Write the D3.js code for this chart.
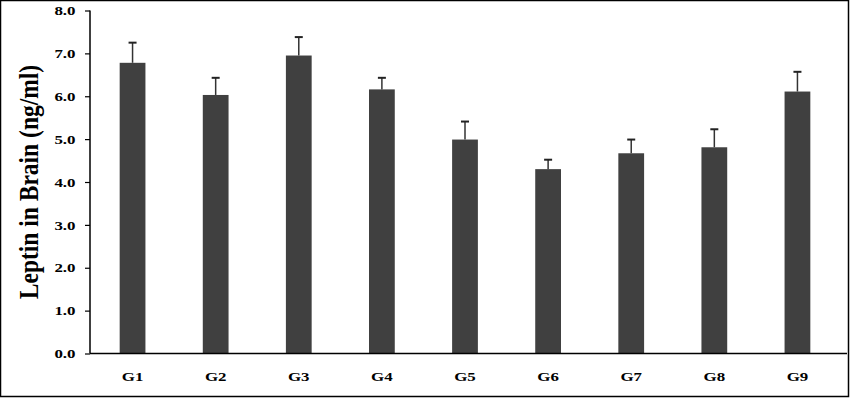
<!DOCTYPE html>
<html>
<head>
<meta charset="utf-8">
<script src="https://cdn.jsdelivr.net/npm/d3@7"></script>
<style>
  body { margin: 0; background: #fff; }
  text { font-family: "Liberation Serif", "Times New Roman", serif; font-weight: bold; fill: #000; }
</style>
</head>
<body>
<div id="chart"></div>
<script>
// data
var groups = ["G1", "G2", "G3", "G4", "G5", "G6", "G7", "G8", "G9"];
var means  = [6.78, 6.03, 6.95, 6.16, 4.99, 4.30, 4.67, 4.81, 6.11];
var errors = [0.47, 0.40, 0.43, 0.27, 0.42, 0.22, 0.32, 0.42, 0.46];
var yTicks = [0, 1, 2, 3, 4, 5, 6, 7, 8];

var W = 850, H = 399,
    stretch = 1.3;   // the original picture is stretched sideways

var svg = d3.select("#chart")
    .append("svg")
    .attr("width", W)
    .attr("height", H);

// outer frame
svg.append("rect")
    .attr("x", 0.5).attr("y", 0.5)
    .attr("width", 848).attr("height", 396)
    .attr("fill", "#fff")
    .attr("stroke", "#000")
    .attr("stroke-width", 1.5);

var xScale = d3.scaleBand()
    .domain(groups)
    .range([91, 839])
    .paddingInner(0.69)
    .paddingOuter(0.345);

var yScale = d3.scaleLinear()
    .domain([0, 8])
    .range([353.5, 10.5]);

// bars
svg.selectAll("rect.bar")
    .data(groups)
    .enter().append("rect")
    .attr("class", "bar")
    .attr("x", function(d) { return xScale(d); })
    .attr("width", xScale.bandwidth())
    .attr("y", function(d, i) { return yScale(means[i]); })
    .attr("height", function(d, i) { return yScale(0) - yScale(means[i]); })
    .attr("fill", "#404040");

// error bars (upper only)
var err = svg.selectAll("g.err")
    .data(groups)
    .enter().append("g")
    .attr("class", "err")
    .attr("transform", function(d) { return "translate(" + (xScale(d) + xScale.bandwidth() / 2) + ",0)"; });

err.append("line")
    .attr("x1", 0).attr("x2", 0)
    .attr("y1", function(d, i) { return yScale(means[i]); })
    .attr("y2", function(d, i) { return yScale(means[i] + errors[i]); })
    .attr("stroke", "#333")
    .attr("stroke-width", 1.5);

err.append("line")
    .attr("x1", -4).attr("x2", 4)
    .attr("y1", function(d, i) { return yScale(means[i] + errors[i]); })
    .attr("y2", function(d, i) { return yScale(means[i] + errors[i]); })
    .attr("stroke", "#222")
    .attr("stroke-width", 2);

// y axis
var yAxis = svg.append("g")
    .attr("transform", "translate(90,0)")
    .call(d3.axisLeft(yScale)
        .tickValues(yTicks)
        .tickSize(5)
        .tickFormat(d3.format(".1f")));
yAxis.select(".domain").attr("stroke", "#000").attr("stroke-width", 1.5)
    .attr("d", "M0," + yScale(8) + "V" + yScale(0));
yAxis.selectAll(".tick line").attr("stroke", "#000").attr("stroke-width", 1.2);
yAxis.selectAll(".tick text")
    .attr("x", -14.5 / stretch)
    .attr("transform", "scale(" + stretch + ",1)")
    .style("font-family", "'Liberation Serif', serif")
    .style("font-weight", "bold")
    .style("font-size", "13px")
    .attr("fill", "#000");

// x axis
var xAxis = svg.append("g")
    .attr("transform", "translate(0," + yScale(0) + ")")
    .call(d3.axisBottom(xScale).tickSize(0).tickPadding(18));
xAxis.select(".domain").attr("stroke", "#000").attr("stroke-width", 1.5)
    .attr("d", "M90,0H847");
xAxis.selectAll(".tick text")
    .attr("transform", "scale(" + stretch + ",1)")
    .style("font-family", "'Liberation Serif', serif")
    .style("font-weight", "bold")
    .style("font-size", "13px")
    .attr("fill", "#000");

// y axis label
svg.append("text")
    .attr("transform", "translate(38,182) scale(1.15,1) rotate(-90)")
    .style("text-anchor", "middle")
    .style("font-size", "23.5px")
    .text("Leptin in Brain (ng/ml)");
</script>
</body>
</html>
